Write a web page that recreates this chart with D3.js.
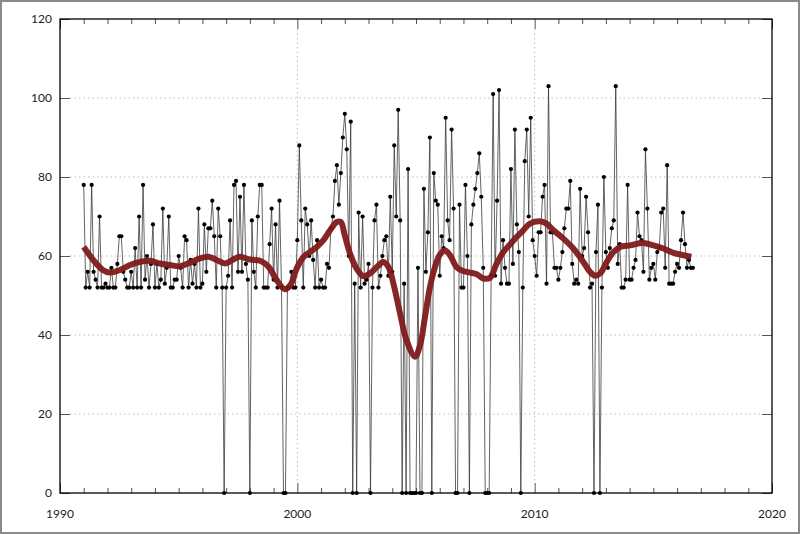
<!DOCTYPE html>
<html><head><meta charset="utf-8">
<script src="https://cdn.jsdelivr.net/npm/d3@7"></script>
<style>
html,body{margin:0;padding:0;background:#fff;}
svg{display:block;}
text{font-family:Lato,"DejaVu Sans",sans-serif;}
</style></head>
<body>
<svg id="chart" width="800" height="534"></svg>
<script>
// Monthly series, starting January 1991
const startYear = 1991;
const values = [
78,52,56,52,78,56,54,52,70,52,52,53,52,52,57,52,52,58,65,65,56,54,52,52,56,52,62,52,70,52,78,54,60,52,58,68,52,58,52,54,72,53,57,70,52,52,54,54,60,
57,52,65,64,52,59,53,58,52,72,52,53,68,56,67,67,74,65,52,72,65,52,0,52,55,69,52,78,79,56,75,56,78,58,54,0,69,56,52,70,78,78,52,52,52,63,72,54,68,52,74,52,0,0,52,
52,56,52,52,64,88,69,52,72,68,60,69,59,52,64,52,54,52,52,58,57,67,70,79,83,73,81,90,96,87,60,94,0,53,0,71,52,70,53,54,58,0,52,69,73,52,55,60,64,65,55,75,56,88,70,97,69,0,53,0,82,0,0,0,0,57,
0,0,77,56,66,90,0,81,74,73,55,65,62,95,69,64,92,72,0,0,73,52,52,78,60,0,68,73,77,81,86,75,57,0,0,0,55,101,55,74,102,53,64,57,53,53,82,58,92,68,61,0,52,84,92,70,
95,64,60,55,66,66,75,78,53,103,66,66,57,57,54,57,61,67,72,72,79,58,53,54,53,77,60,62,75,66,52,53,0,61,73,0,52,80,61,57,62,67,69,103,58,63,52,52,54,78,54,54,57,59,71,65,64,56,87,72,54,57,58,54,61,62,71,72,57,83,53,53,53,56,58,57,64,71,63,57,59,57,57
];
// Smoothed trend
const smoothYears = [1991.0,1991.4,1991.82,1992.1,1992.5,1992.95,1993.37,1993.8,1994.2,1994.64,1995.06,1995.48,1995.9,1996.25,1996.6,1996.95,1997.3,1997.58,1998.0,1998.43,1998.78,1999.13,1999.48,1999.72,1999.97,2000.25,2000.53,2000.82,2001.1,2001.38,2001.66,2001.83,2002.0,2002.22,2002.5,2002.78,2003.06,2003.35,2003.62,2003.84,2004.05,2004.33,2004.6,2004.96,2005.17,2005.38,2005.59,2005.8,2006.01,2006.22,2006.43,2006.71,2006.99,2007.28,2007.56,2007.84,2008.12,2008.4,2008.68,2008.96,2009.24,2009.52,2009.8,2010.2,2010.5,2010.79,2011.21,2011.63,2012.05,2012.33,2012.55,2012.76,2013.04,2013.32,2013.6,2014.02,2014.58,2015.0,2015.42,2015.85,2016.27,2016.6];
const smoothValues = [62.3,59,56.4,55.8,56.4,57.7,58.5,58.8,58.1,57.7,57.4,58.3,59.4,59.8,59,58.1,59.1,59.8,59.1,58.8,57.3,53.9,51.6,52.8,56.8,59.7,61,62.3,64,66.5,68.6,68.6,65.2,60.6,56.8,54.9,55.6,57.2,58.5,57.2,53,45.4,38.7,34.5,37.4,44.6,52.2,57.2,60.4,61.4,60.2,57.2,56.2,55.8,55.4,54.3,54.5,58.1,61,62.9,64.8,66.5,68.2,68.8,68.2,66.5,64.4,61.9,58.5,56,55,55.6,58.5,61,62.3,62.7,63.3,62.7,61.9,60.8,60.2,59.8];
const xTicks = [1990,2000,2010,2020];
const yTicks = [0,20,40,60,80,100,120];

const svg = d3.select("#chart");
const W = 800, H = 534;
const L = 60, R = 772, T = 19, B = 493;
const x = d3.scaleLinear().domain([1990,2020]).range([L,R]);
const y = d3.scaleLinear().domain([0,120]).range([B,T]);

// outer border
svg.append("rect").attr("x",1).attr("y",1).attr("width",W-2).attr("height",H-2)
  .attr("fill","#fff").attr("stroke","#8a8a8a").attr("stroke-width",2);

// grid
const g = svg.append("g");
g.selectAll("line.gy").data(yTicks.filter(d=>d>0&&d<120)).join("line")
  .attr("x1",L+10).attr("x2",R-10).attr("y1",d=>y(d)).attr("y2",d=>y(d))
  .attr("stroke","#bdbdbd").attr("stroke-width",1).attr("stroke-dasharray","1.5,3");
g.selectAll("line.gx").data(xTicks.filter(d=>d>1990&&d<2020)).join("line")
  .attr("y1",T+10).attr("y2",B-10).attr("x1",d=>x(d)).attr("x2",d=>x(d))
  .attr("stroke","#bdbdbd").attr("stroke-width",1).attr("stroke-dasharray","1.5,3");

// minor year ticks top and bottom
const years = d3.range(1991,2020).filter(d=>d%10!==0);
function tickAxis(axisFn, pos, vals, size){
  svg.append("g").attr("transform",pos)
    .call(axisFn.tickValues(vals).tickSize(-size).tickFormat(""))
    .call(a=>a.select(".domain").remove())
    .call(a=>a.selectAll("line").attr("stroke","#555"));
}
tickAxis(d3.axisBottom(x), `translate(0,${B})`, years, 5);
tickAxis(d3.axisTop(x), `translate(0,${T})`, years, 5);
tickAxis(d3.axisBottom(x), `translate(0,${B})`, xTicks, 10);
tickAxis(d3.axisTop(x), `translate(0,${T})`, xTicks, 10);
tickAxis(d3.axisLeft(y), `translate(${L},0)`, yTicks, 10);
tickAxis(d3.axisRight(y), `translate(${R},0)`, yTicks, 10);

// labels
svg.append("g").selectAll("text").data(yTicks).join("text")
  .attr("x",L-8).attr("y",d=>y(d)).attr("dy","0.35em").attr("text-anchor","end")
  .attr("font-size",12).attr("fill","#222").text(d=>d);
svg.append("g").selectAll("text").data(xTicks).join("text")
  .attr("x",d=>x(d)).attr("y",B+21).attr("dy","0.35em").attr("text-anchor","middle")
  .attr("font-size",12).attr("fill","#222").text(d=>d);

// data
const pts = values.map((v,i)=>({t:startYear+i/12, v}));
const line = d3.line().x(d=>x(d.t)).y(d=>y(d.v));
svg.append("path").datum(pts).attr("d",line).attr("fill","none")
  .attr("stroke","#333").attr("stroke-opacity",0.85).attr("stroke-width",0.9);
svg.append("g").selectAll("circle").data(pts).join("circle")
  .attr("cx",d=>x(d.t)).attr("cy",d=>y(d.v)).attr("r",2.1).attr("fill","#000");

// smoother
const sm = smoothYears.map((t,i)=>({t, v:smoothValues[i]}));
svg.append("path").datum(sm)
  .attr("d",d3.line().x(d=>x(d.t)).y(d=>y(d.v)).curve(d3.curveCatmullRom))
  .attr("fill","none").attr("stroke","#7f1a1a").attr("stroke-opacity",0.95)
  .attr("stroke-width",6).attr("stroke-linejoin","round");

// frame
svg.append("rect").attr("x",L).attr("y",T).attr("width",R-L).attr("height",B-T)
  .attr("fill","none").attr("stroke","#000").attr("stroke-width",1.3);
</script>
</body></html>
